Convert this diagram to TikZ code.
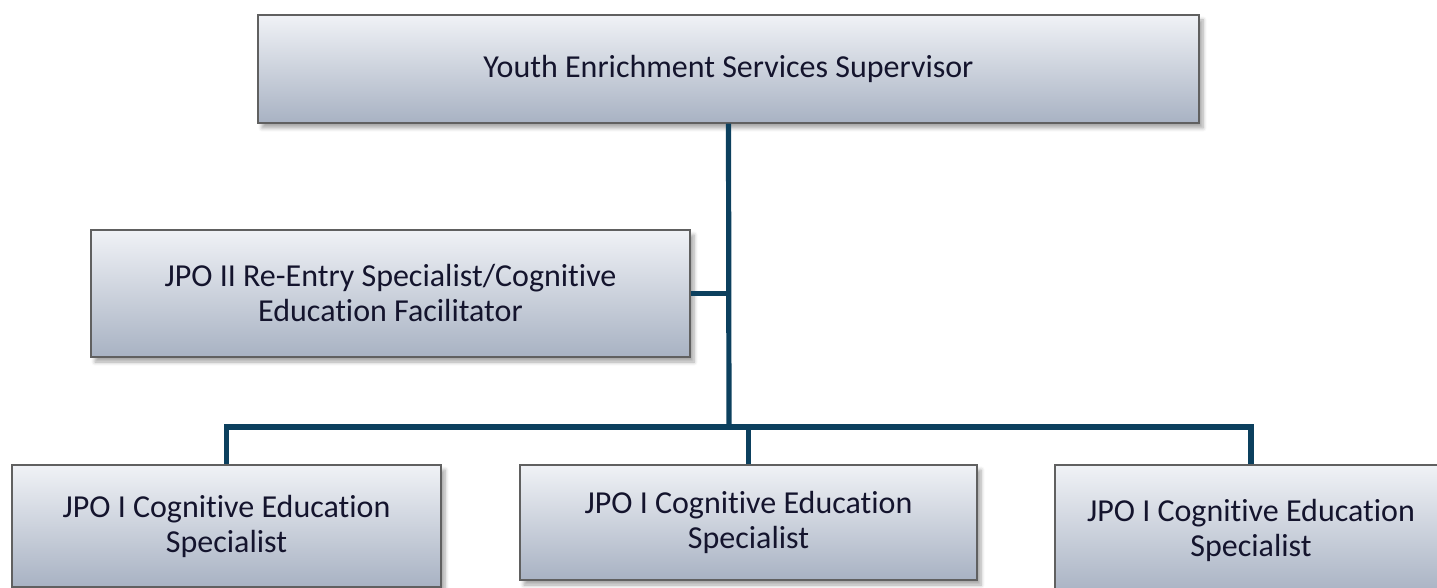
\documentclass[tikz,border=0pt]{standalone}
\usepackage{fontspec}
\setmainfont{Carlito}[Ligatures=NoCommon]
\usetikzlibrary{shadows.blur}
\definecolor{boxtop}{RGB}{240,242,246}
\definecolor{boxbottom}{RGB}{168,178,195}
\definecolor{linkblue}{RGB}{12,64,94}

\begin{document}
\begin{tikzpicture}[x=0.5pt, y=-0.5pt]
        % Define block styles
        \tikzstyle{post} = [rectangle, draw=gray!75!black, line width=0.6pt,
            top color=boxtop, bottom color=boxbottom,
            align=center, inner sep=0pt, text={rgb,255:red,20;green,20;blue,45},
            font=\fontsize{16}{17.5}\selectfont,
            blur shadow={shadow xshift=2pt, shadow yshift=-2.5pt, shadow blur steps=6, shadow opacity=35}]
        \tikzstyle{link} = [draw, line width=2.6pt, color=linkblue]

        \useasboundingbox (0,0) rectangle (1437,588);

        % Nodes
        \node [post, minimum width=470.5pt, minimum height=54pt] (sup) at (728.5,69) {Youth Enrichment Services Supervisor};
        \node [post, minimum width=299.5pt, minimum height=63.5pt] (fac) at (390.5,293.5) {JPO II Re-Entry Specialist/Cognitive\\Education Facilitator};
        \node [post, minimum width=214.5pt, minimum height=61pt] (specA) at (226.5,526) {JPO I Cognitive Education\\Specialist};
        \node [post, minimum width=228.5pt, minimum height=57.5pt] (specB) at (748.5,522.5) {JPO I Cognitive Education\\Specialist};
        \node [post, minimum width=196pt, minimum height=65pt] (specC) at (1251,530) {JPO I Cognitive Education\\Specialist};
        \coordinate (bus) at (729,427);

        % Lines
        \path [link] (sup.south) -- (bus);
        \path [link] (fac.east) -- (fac.east -| bus);
        \path [link] (specA.north) |- (bus) -| (specC.north);
        \path [link] (specB.north) -- (specB.north |- bus);
\end{tikzpicture}
\end{document}
